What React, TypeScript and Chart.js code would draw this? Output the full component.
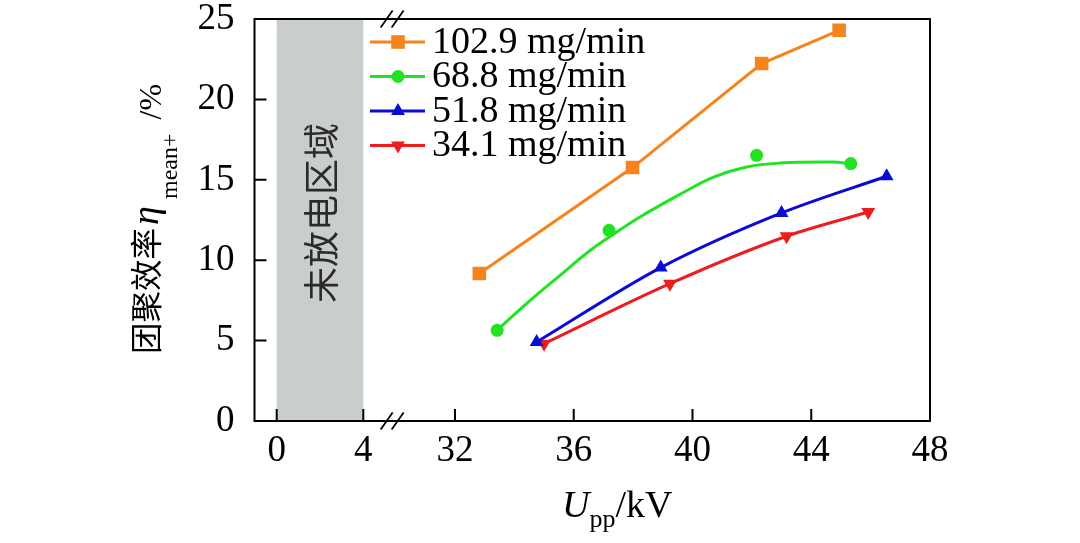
import React, { useEffect, useRef } from "react";
import { Chart, registerables } from "chart.js";

Chart.register(...registerables);

// ---------- data ----------
const X_TICKS = [0, 4, 32, 36, 40, 44, 48];
const Y_TICKS = [0, 5, 10, 15, 20, 25];
const SERIES_LABELS = ["102.9 mg/min", "68.8 mg/min", "51.8 mg/min", "34.1 mg/min"];
const REGION_LABEL = "未放电区域";
const NO_DISCHARGE = [0, 4];

const S1_X = [32.82, 37.98, 42.33, 44.94];
const S1_Y = [9.17, 15.76, 22.23, 24.3];

const S2_X = [33.42, 37.19, 42.16, 45.33];
const S2_Y = [5.64, 11.86, 16.52, 16.01];
// fitted curve for the 68.8 mg/min series
const S2_FIT_X = [33.42, 34.41, 35.54, 36.55, 37.22, 38.23, 39.58, 40.71, 41.82, 42.95, 44.74, 45.33];
const S2_FIT_Y = [5.64, 7.3, 9.06, 10.6, 11.47, 12.69, 14.1, 15.17, 15.8, 16.04, 16.1, 16.0];

const S3_X = [34.75, 38.93, 43.0, 46.54];
const S3_Y = [4.91, 9.54, 12.94, 15.22];

const S4_X = [35.0, 39.24, 43.17, 45.92];
const S4_Y = [4.81, 8.54, 11.49, 13.0];

const COLORS = ["#f5841c", "#22e322", "#0b0bd6", "#ee1d1d"];

// ---------- broken x axis transform ----------
const LOW_SCALE = 21.65;
const HIGH_SCALE = 29.69;
const toAxis = (v: number) =>
  v <= 10 ? (v + 1.0254) * LOW_SCALE : 200.5 + (v - 32) * HIGH_SCALE;
const AXIS_MAX = toAxis(48);

const pts = (xs: number[], ys: number[]) => xs.map((x, i) => ({ x: toAxis(x), y: ys[i] }));

const SERIF = '"Liberation Serif", "Times New Roman", serif';
const CJK = '"Noto Sans CJK SC", sans-serif';

function drawMarker(ctx: CanvasRenderingContext2D, kind: number, x: number, y: number) {
  ctx.fillStyle = COLORS[kind];
  ctx.beginPath();
  if (kind === 0) {
    const s = 6.8;
    ctx.rect(x - s, y - s, 2 * s, 2 * s);
  } else if (kind === 1) {
    ctx.arc(x, y, 6.5, 0, Math.PI * 2);
  } else if (kind === 2) {
    const r = 8;
    ctx.moveTo(x, y - r);
    ctx.lineTo(x + r * 0.866, y + r * 0.5);
    ctx.lineTo(x - r * 0.866, y + r * 0.5);
    ctx.closePath();
  } else {
    const r = 8;
    ctx.moveTo(x, y + r);
    ctx.lineTo(x + r * 0.866, y - r * 0.5);
    ctx.lineTo(x - r * 0.866, y - r * 0.5);
    ctx.closePath();
  }
  ctx.fill();
}

const overlay = {
  id: "overlay",
  beforeDatasetsDraw(chart: any) {
    const { ctx, chartArea: ca, scales } = chart;
    const xs = scales.x;
    const x0 = xs.getPixelForValue(toAxis(NO_DISCHARGE[0]));
    const x1 = xs.getPixelForValue(toAxis(NO_DISCHARGE[1]));
    ctx.save();
    ctx.fillStyle = "#c9cdcc";
    ctx.fillRect(x0, ca.top, x1 - x0, ca.bottom - ca.top);
    ctx.translate((x0 + x1) / 2 + 1, (ca.top + ca.bottom) / 2 - 7);
    ctx.rotate(-Math.PI / 2);
    ctx.font = `36px ${CJK}`;
    ctx.fillStyle = "#2b2b2b";
    ctx.textAlign = "center";
    ctx.textBaseline = "middle";
    ctx.fillText(REGION_LABEL, 0, 0);
    ctx.restore();
  },
  afterDatasetsDraw(chart: any) {
    const { ctx, chartArea: ca, scales } = chart;
    const xs = scales.x;
    const ys = scales.y;
    ctx.save();
    // frame
    ctx.strokeStyle = "#000";
    ctx.lineWidth = 2;
    ctx.strokeRect(ca.left, ca.top, ca.right - ca.left, ca.bottom - ca.top);
    // ticks (inward)
    ctx.beginPath();
    Y_TICKS.forEach((v) => {
      if (v === 0 || v === 25) return;
      const py = ys.getPixelForValue(v);
      ctx.moveTo(ca.left, py);
      ctx.lineTo(ca.left + 12, py);
    });
    X_TICKS.forEach((v) => {
      if (v === 48) return;
      const px = xs.getPixelForValue(toAxis(v));
      ctx.moveTo(px, ca.bottom);
      ctx.lineTo(px, ca.bottom - 12);
    });
    ctx.stroke();
    // break marks
    const bx = (xs.getPixelForValue(toAxis(4)) + xs.getPixelForValue(toAxis(32))) / 2 - 17;
    ctx.lineWidth = 1.8;
    ctx.beginPath();
    [ca.top, ca.bottom].forEach((yy) => {
      [bx - 5.5, bx + 5.5].forEach((cx) => {
        ctx.moveTo(cx - 6, yy + 8.5);
        ctx.lineTo(cx + 6, yy - 8.5);
      });
    });
    ctx.stroke();

    // legend
    SERIES_LABELS.forEach((label, i) => {
      const ly = 42 + i * 34.5;
      ctx.strokeStyle = COLORS[i];
      ctx.lineWidth = 3;
      ctx.beginPath();
      ctx.moveTo(370, ly);
      ctx.lineTo(425, ly);
      ctx.stroke();
      drawMarker(ctx, i, 398, ly);
      ctx.fillStyle = "#000";
      ctx.font = `38px ${SERIF}`;
      ctx.textAlign = "left";
      ctx.textBaseline = "middle";
      ctx.fillText(label, 432, ly + 1);
    });

    // y title
    ctx.save();
    ctx.translate(158, 354);
    ctx.rotate(-Math.PI / 2);
    ctx.fillStyle = "#000";
    ctx.textAlign = "left";
    ctx.textBaseline = "alphabetic";
    let cx = 0;
    ctx.font = `31.5px ${CJK}`;
    ctx.fillText("团聚效率", cx, 0);
    cx += ctx.measureText("团聚效率").width + 3;
    ctx.font = `italic 38px ${SERIF}`;
    ctx.fillText("η", cx, 0);
    cx += 26;
    ctx.font = `24px ${SERIF}`;
    ctx.fillText("mean+", cx, 19);
    cx += ctx.measureText("mean+").width + 14;
    ctx.font = `32px ${SERIF}`;
    ctx.fillText("/%", cx, 3);
    ctx.restore();

    // x title
    ctx.fillStyle = "#000";
    ctx.textAlign = "left";
    ctx.textBaseline = "alphabetic";
    let tx = 562;
    ctx.font = `italic 38px ${SERIF}`;
    ctx.fillText("U", tx, 517);
    tx += ctx.measureText("U").width;
    ctx.font = `26px ${SERIF}`;
    ctx.fillText("pp", tx, 527);
    tx += ctx.measureText("pp").width;
    ctx.font = `38px ${SERIF}`;
    ctx.fillText("/kV", tx, 517);
    ctx.restore();
  },
};

export default function App() {
  const ref = useRef<HTMLCanvasElement | null>(null);
  useEffect(() => {
    if (!ref.current) return;
    Chart.defaults.font.family = SERIF;
    const lineBase = { borderWidth: 3, pointBorderWidth: 0 };
    const chart = new Chart(ref.current, {
      type: "line",
      data: {
        datasets: [
          {
            ...lineBase,
            label: SERIES_LABELS[0],
            data: pts(S1_X, S1_Y),
            borderColor: COLORS[0],
            backgroundColor: COLORS[0],
            pointStyle: "rect",
            pointRadius: 9.6,
            tension: 0,
          },
          {
            ...lineBase,
            label: SERIES_LABELS[1],
            data: pts(S2_X, S2_Y),
            borderColor: COLORS[1],
            backgroundColor: COLORS[1],
            pointStyle: "circle",
            pointRadius: 6.5,
            showLine: false,
          },
          {
            ...lineBase,
            label: "fit",
            data: pts(S2_FIT_X, S2_FIT_Y),
            borderColor: COLORS[1],
            pointRadius: 0,
            tension: 0.4,
          },
          {
            ...lineBase,
            label: SERIES_LABELS[2],
            data: pts(S3_X, S3_Y),
            borderColor: COLORS[2],
            backgroundColor: COLORS[2],
            pointStyle: "triangle",
            pointRadius: 8,
            cubicInterpolationMode: "monotone",
          },
          {
            ...lineBase,
            label: SERIES_LABELS[3],
            data: pts(S4_X, S4_Y),
            borderColor: COLORS[3],
            backgroundColor: COLORS[3],
            pointStyle: "triangle",
            pointRotation: 180,
            pointRadius: 8,
            cubicInterpolationMode: "monotone",
          },
        ] as any,
      },
      options: {
        responsive: false,
        animation: false,
        layout: { padding: { top: 19, right: 150, left: 0, bottom: 0 } },
        plugins: { legend: { display: false }, tooltip: { enabled: false } },
        scales: {
          x: {
            type: "linear",
            min: 0,
            max: AXIS_MAX,
            afterBuildTicks: (s: any) => {
              s.ticks = X_TICKS.map((v) => ({ value: toAxis(v) }));
            },
            afterFit: (s: any) => {
              s.height = 122;
              s.paddingLeft = 0;
              s.paddingRight = 0;
            },
            ticks: {
              callback: (_v: any, i: number) => String(X_TICKS[i]),
              font: { family: SERIF, size: 37 },
              color: "#000",
              padding: 0,
              maxRotation: 0,
              autoSkip: false,
            },
            grid: { display: false },
            border: { display: false },
          },
          y: {
            min: 0,
            max: 25,
            afterBuildTicks: (s: any) => {
              s.ticks = Y_TICKS.map((v) => ({ value: v }));
            },
            afterFit: (s: any) => {
              s.width = 254.5;
              s.paddingTop = 0;
              s.paddingBottom = 0;
            },
            ticks: {
              font: { family: SERIF, size: 37 },
              color: "#000",
              padding: 12,
            },
            grid: { display: false },
            border: { display: false },
          },
        },
      } as any,
      plugins: [overlay],
    });
    return () => chart.destroy();
  }, []);
  return (
    <div style={{ position: "fixed", left: 0, top: 0, width: 1080, height: 543, background: "#fff" }}>
      <canvas ref={ref} width={1080} height={543} style={{ display: "block" }} />
    </div>
  );
}
